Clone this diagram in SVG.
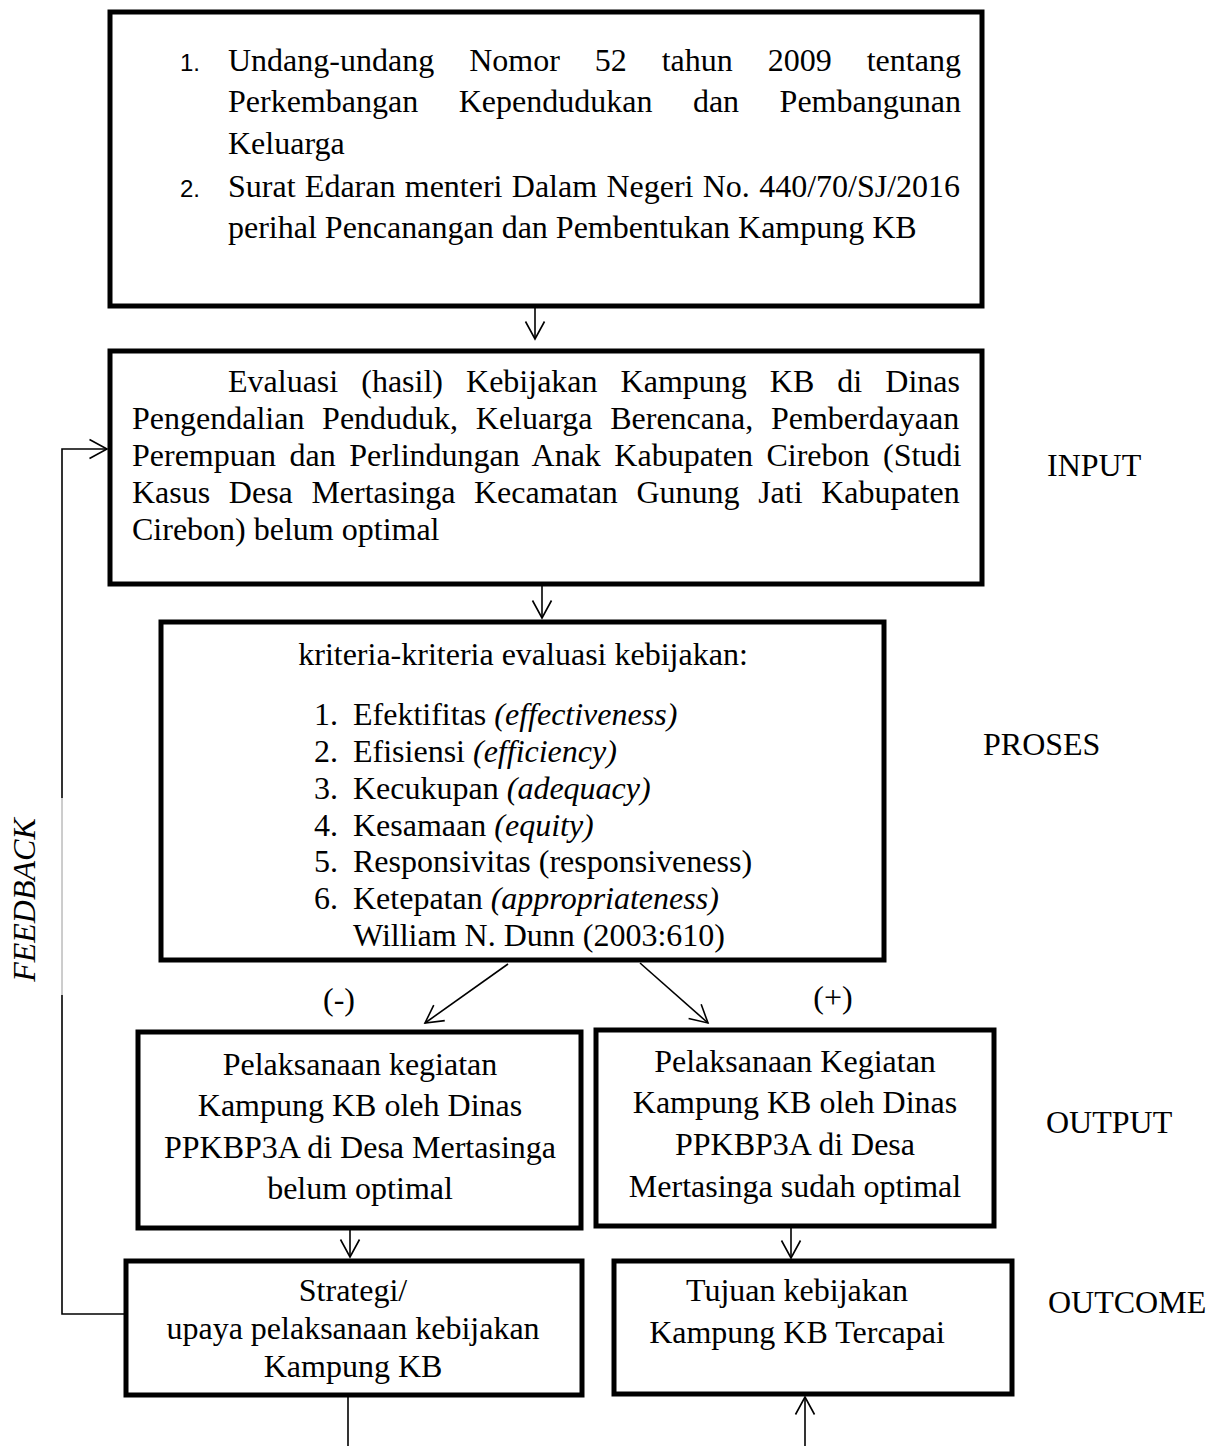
<svg xmlns="http://www.w3.org/2000/svg" width="1222" height="1446" viewBox="0 0 1222 1446">
<style>
.box{fill:#fff;stroke:#000;stroke-width:5}
.t{font-family:"Liberation Serif","Times New Roman",serif;font-size:32px;fill:#000}
.num{font-family:"Liberation Sans",Arial,sans-serif;font-size:24px;fill:#000}
.c{text-anchor:middle}
.i{font-style:italic}
.conn{stroke:#000;stroke-width:1.6;fill:none}
</style>
<defs>
<marker id="ah" markerUnits="userSpaceOnUse" markerWidth="24" markerHeight="24" viewBox="-20 -12 24 24" refX="0" refY="0" orient="auto">
<path d="M -17.5 -9.5 L 0 0 L -17.5 9.5" fill="none" stroke="#000" stroke-width="1.6"/>
</marker>
</defs>
<rect width="1222" height="1446" fill="#fff"/>

<g id="connectors">
<line class="conn" x1="535" y1="308" x2="535" y2="339" marker-end="url(#ah)"/>
<line class="conn" x1="542" y1="586" x2="542" y2="618" marker-end="url(#ah)"/>
<line class="conn" x1="508" y1="964" x2="425" y2="1023" marker-end="url(#ah)"/>
<line class="conn" x1="640" y1="963" x2="708" y2="1023" marker-end="url(#ah)"/>
<line class="conn" x1="350" y1="1225" x2="350" y2="1257" marker-end="url(#ah)"/>
<line class="conn" x1="791" y1="1223" x2="791" y2="1258" marker-end="url(#ah)"/>
<line class="conn" x1="348" y1="1397" x2="348" y2="1446"/>
<line class="conn" x1="805" y1="1446" x2="805" y2="1397" marker-end="url(#ah)"/>
<polyline class="conn" points="124,1314 62,1314 62,995"/>
<line x1="62" y1="995" x2="62" y2="798" stroke="#9a9a9a" stroke-width="1"/>
<polyline class="conn" points="62,798 62,449 107,449" marker-end="url(#ah)"/>
</g>

<g id="node-dasar-hukum">
<rect class="box" x="110" y="12" width="872" height="294"/>
<text class="num" x="180" y="71">1.</text>
<text class="t" x="228" y="71" style="word-spacing:26.96px">Undang-undang Nomor 52 tahun 2009 tentang</text>
<text class="t" x="228" y="112" style="word-spacing:32.5px">Perkembangan Kependudukan dan Pembangunan</text>
<text class="t" x="228" y="154">Keluarga</text>
<text class="num" x="180" y="197">2.</text>
<text class="t" x="228" y="197" style="word-spacing:1.3px">Surat Edaran menteri Dalam Negeri No. 440/70/SJ/2016</text>
<text class="t" x="228" y="238">perihal Pencanangan dan Pembentukan Kampung KB</text>
</g>

<g id="node-evaluasi">
<rect class="box" x="110" y="351" width="872" height="233"/>
<text class="t" x="228" y="392" style="word-spacing:15.05px">Evaluasi (hasil) Kebijakan Kampung KB di Dinas</text>
<text class="t" x="132" y="429" style="word-spacing:9.7px">Pengendalian Penduduk, Keluarga Berencana, Pemberdayaan</text>
<text class="t" x="132" y="466" style="word-spacing:5.5px">Perempuan dan Perlindungan Anak Kabupaten Cirebon (Studi</text>
<text class="t" x="132" y="503" style="word-spacing:10.6px">Kasus Desa Mertasinga Kecamatan Gunung Jati Kabupaten</text>
<text class="t" x="132" y="540">Cirebon) belum optimal</text>
</g>

<g id="node-kriteria">
<rect class="box" x="161" y="622" width="723" height="338"/>
<text class="t c" x="523" y="665">kriteria-kriteria evaluasi kebijakan:</text>
<text class="t" x="314" y="725">1.</text><text class="t" x="353" y="725">Efektifitas <tspan class="i">(effectiveness)</tspan></text>
<text class="t" x="314" y="762">2.</text><text class="t" x="353" y="762">Efisiensi <tspan class="i">(efficiency)</tspan></text>
<text class="t" x="314" y="799">3.</text><text class="t" x="353" y="799">Kecukupan <tspan class="i">(adequacy)</tspan></text>
<text class="t" x="314" y="836">4.</text><text class="t" x="353" y="836">Kesamaan <tspan class="i">(equity)</tspan></text>
<text class="t" x="314" y="872">5.</text><text class="t" x="353" y="872">Responsivitas (responsiveness)</text>
<text class="t" x="314" y="909">6.</text><text class="t" x="353" y="909">Ketepatan <tspan class="i">(appropriateness)</tspan></text>
<text class="t" x="353" y="946">William N. Dunn (2003:610)</text>
</g>

<g id="node-belum-optimal">
<rect class="box" x="138" y="1032" width="443" height="196"/>
<text class="t c" x="360" y="1075">Pelaksanaan kegiatan</text>
<text class="t c" x="360" y="1116">Kampung KB oleh Dinas</text>
<text class="t c" x="360" y="1158">PPKBP3A di Desa Mertasinga</text>
<text class="t c" x="360" y="1199">belum optimal</text>
</g>

<g id="node-sudah-optimal">
<rect class="box" x="596" y="1030" width="398" height="196"/>
<text class="t c" x="795" y="1072">Pelaksanaan Kegiatan</text>
<text class="t c" x="795" y="1113">Kampung KB oleh Dinas</text>
<text class="t c" x="795" y="1155">PPKBP3A di Desa</text>
<text class="t c" x="795" y="1197">Mertasinga sudah optimal</text>
</g>

<g id="node-strategi">
<rect class="box" x="126" y="1261" width="456" height="134"/>
<text class="t c" x="353" y="1301">Strategi/</text>
<text class="t c" x="353" y="1339">upaya pelaksanaan kebijakan</text>
<text class="t c" x="353" y="1377">Kampung KB</text>
</g>

<g id="node-tujuan">
<rect class="box" x="614" y="1261" width="398" height="133"/>
<text class="t c" x="797" y="1301">Tujuan kebijakan</text>
<text class="t c" x="797" y="1343">Kampung KB Tercapai</text>
</g>

<g id="labels">
<text class="t c" x="339" y="1010">(-)</text>
<text class="t c" x="833" y="1008">(+)</text>
<text class="t" x="1047" y="476">INPUT</text>
<text class="t" x="983" y="755">PROSES</text>
<text class="t" x="1046" y="1133">OUTPUT</text>
<text class="t" x="1048" y="1313">OUTCOME</text>
<text class="t c i" transform="translate(35,900) rotate(-90)">FEEDBACK</text>
</g>
</svg>
